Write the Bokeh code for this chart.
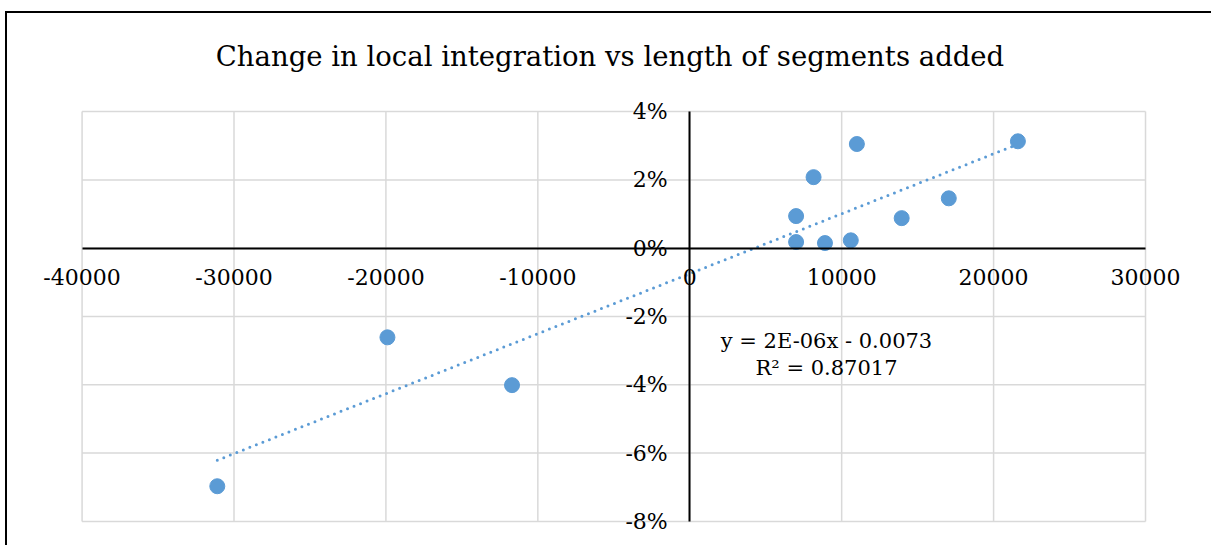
import numpy as np
from bokeh.plotting import figure
from bokeh.models import Range1d, FixedTicker, NumeralTickFormatter, Label, Title
from bokeh.embed import file_html
from bokeh.resources import INLINE

# Data
segment_length = [-31100, -19900, -11700, 7000, 7000, 8150, 8900, 10600, 11000, 13950, 17050, 21600]
integration_change = [-0.0697, -0.0261, -0.0401, 0.0094, 0.0018, 0.0208, 0.0015, 0.0023, 0.0305, 0.0088, 0.0146, 0.0313]
x_ticks = [-40000, -30000, -20000, -10000, 0, 10000, 20000, 30000]
y_ticks = [-0.08, -0.06, -0.04, -0.02, 0.0, 0.02, 0.04]
title_text = "Change in local integration vs length of segments added"
eq_text = "y = 2E-06x - 0.0073"
r2_text = "R² = 0.87017"

FONT = "DejaVu Serif"
BLUE = "#5B9BD5"
GRID = "#d9d9d9"

x_min, x_max = x_ticks[0], x_ticks[-1]
y_min, y_max = y_ticks[0], y_ticks[-1]

p = figure(width=1206, height=534, output_backend="svg", toolbar_location=None,
           x_range=Range1d(-43000, 32500), y_range=Range1d(-0.085, 0.045),
           min_border_left=29, min_border_right=30, min_border_top=81, min_border_bottom=9,
           title=None)
p.styles = {"border-left": "2px solid black", "border-top": "2px solid black",
            "margin-left": "5px", "margin-top": "11px"}

t = Title(text=title_text, align="center", text_font=FONT, text_font_size="27.5px",
          text_font_style="normal", text_color="black", standoff=45)
p.add_layout(t, "above")

p.outline_line_color = None
p.background_fill_color = "white"
p.border_fill_color = "white"
p.grid.visible = False

# Gridlines (including the plot-area border) drawn from the tick values
p.segment(x0=x_ticks, y0=[y_min] * len(x_ticks), x1=x_ticks, y1=[y_max] * len(x_ticks),
          line_color=GRID, line_width=1.5)
p.segment(x0=[x_min] * len(y_ticks), y0=y_ticks, x1=[x_max] * len(y_ticks), y1=y_ticks,
          line_color=GRID, line_width=1.5)

for ax in (p.xaxis[0], p.yaxis[0]):
    ax.fixed_location = 0
    ax.axis_line_color = "black"
    ax.axis_line_width = 2
    ax.major_tick_line_color = None
    ax.minor_tick_line_color = None
    ax.major_label_text_font = FONT
    ax.major_label_text_font_size = "22px"
    ax.major_label_text_color = "black"

p.xaxis[0].ticker = FixedTicker(ticks=x_ticks)
p.xaxis[0].formatter = NumeralTickFormatter(format="0")
p.xaxis[0].major_label_standoff = 15
p.xaxis[0].bounds = (x_min, x_max)
p.yaxis[0].ticker = FixedTicker(ticks=y_ticks)
p.yaxis[0].formatter = NumeralTickFormatter(format="0%")
p.yaxis[0].major_label_standoff = 16
p.yaxis[0].bounds = (y_min, y_max)

# Linear trendline via least squares
xs = np.array(segment_length, dtype=float)
ys = np.array(integration_change, dtype=float)
slope, intercept = np.polyfit(xs, ys, 1)
tx = np.array([xs.min(), xs.max()])
p.line(tx, slope * tx + intercept, line_color=BLUE, line_width=3,
       line_dash="0 7", line_cap="round")

p.scatter(segment_length, integration_change, size=15, fill_color=BLUE, line_color=BLUE)

p.add_layout(Label(x=9000, y=-0.0272, text=eq_text, text_align="center", text_baseline="middle",
                   text_font=FONT, text_font_size="21px", text_color="black"))
p.add_layout(Label(x=9000, y=-0.0351, text=r2_text, text_align="center", text_baseline="middle",
                   text_font=FONT, text_font_size="21px", text_color="black"))

open("out.html", "w").write(file_html(p, INLINE))
